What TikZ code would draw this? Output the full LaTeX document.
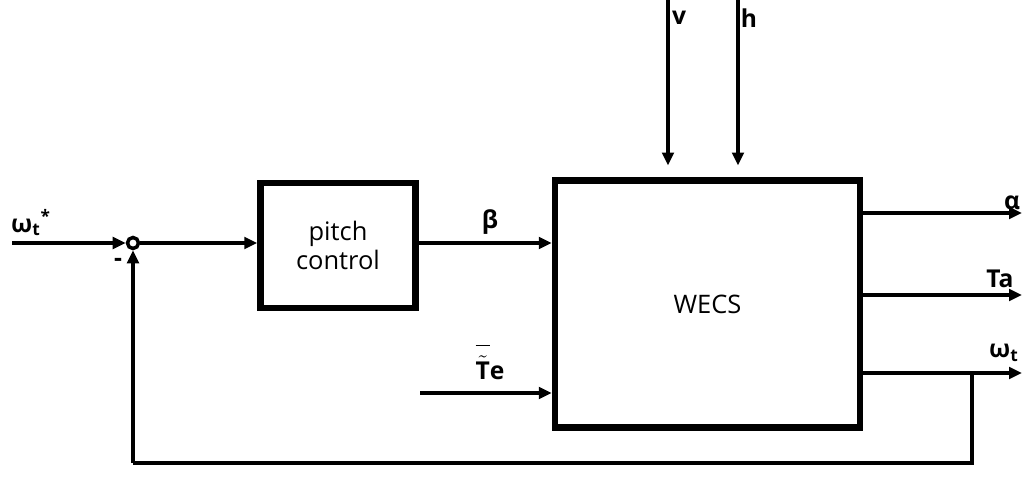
\documentclass[tikz,border=0pt]{standalone}
\usepackage{amsmath}
\usepackage{fontspec}
\setmainfont{Open Sans}
\usetikzlibrary{arrows.meta, positioning, calc}
\tikzset{
    % blocks - thick sharp boxes
    block/.style={
        rectangle,
        draw=black,
        line width=3.6pt,
        align=center,
        font=\fontsize{14.5}{17}\selectfont
    },
    sumpoint/.style={
        circle,
        draw=black,
        line width=2pt,
        inner sep=0pt,
        minimum size=0.22cm
    },
    % signals
    signal/.style={
        -{Triangle[length=2.6mm,width=2.3mm]},
        line width=2.3pt,
        draw=black
    },
    wire/.style={
        line width=2.3pt,
        draw=black
    },
    lbl/.style={
        font=\fontsize{14}{16}\selectfont\bfseries,
        inner sep=1pt
    }
}
\begin{document}
\begin{tikzpicture}
    \useasboundingbox (0,0) rectangle (20.48,9.86);

    \node[sumpoint] (sum) at (2.66,5.0) {};
    \node[block, minimum width=3.1cm, minimum height=2.5cm] (pitch) at (6.76,4.95) {pitch\\control};
    \node[block, minimum width=6.1cm, minimum height=4.94cm] (wecs) at (14.15,3.78) {WECS};

    \coordinate (wref) at (0.24,5.0);
    \coordinate (vtop) at (13.36,9.86);
    \coordinate (htop) at (14.76,9.86);
    \coordinate (vend) at (13.36,6.55);
    \coordinate (hend) at (14.76,6.55);
    \coordinate (testart) at (8.4,2.0);
    \coordinate (aout) at (20.44,5.6);
    \coordinate (taout) at (20.44,3.96);
    \coordinate (wout) at (20.44,2.4);
    \coordinate (branch) at (19.44,2.4);
    \coordinate (fb1) at (19.44,0.6);
    \coordinate (fb2) at (2.66,0.6);

    \draw[signal] (wref) -- (sum.west);
    \draw[signal] (sum.east) -- (pitch.west |- sum);
    \draw[signal] (pitch.east |- sum) -- (wecs.west |- sum);
    \draw[signal] (testart) -- (wecs.west |- testart);
    \draw[signal] (vtop) -- (vend);
    \draw[signal] (htop) -- (hend);

    \draw[signal] (wecs.east |- aout) -- (aout);
    \draw[signal] (wecs.east |- taout) -- (taout);
    \draw[signal] (wecs.east |- wout) -- (wout);

    % feedback of the rotor speed
    \draw[wire] (branch) -- (fb1) -- (fb2);
    \draw[signal] (fb2) -- (sum.south);

    \node[lbl] (lw) at (0.62,5.4) {ω\textsubscript{t}\textsuperscript{*}};
    \node[lbl] (lminus) at (2.36,4.62) {-};
    \node[lbl] (lbeta) at (9.8,5.42) {β};
    \node[lbl] (lte) at (9.8,2.62) {$\overline{\tilde{\text{\bfseries T}}\rule{0pt}{2.25ex}}$e};
    \node[lbl] (lv) at (13.58,9.5) {v};
    \node[lbl] (lh) at (14.98,9.5) {h};
    \node[lbl] (la) at (20.24,5.8) {α};
    \node[lbl] (lta) at (20.0,4.28) {Ta};
    \node[lbl] (lwt) at (20.08,2.8) {ω\textsubscript{t}};
\end{tikzpicture}
\end{document}
